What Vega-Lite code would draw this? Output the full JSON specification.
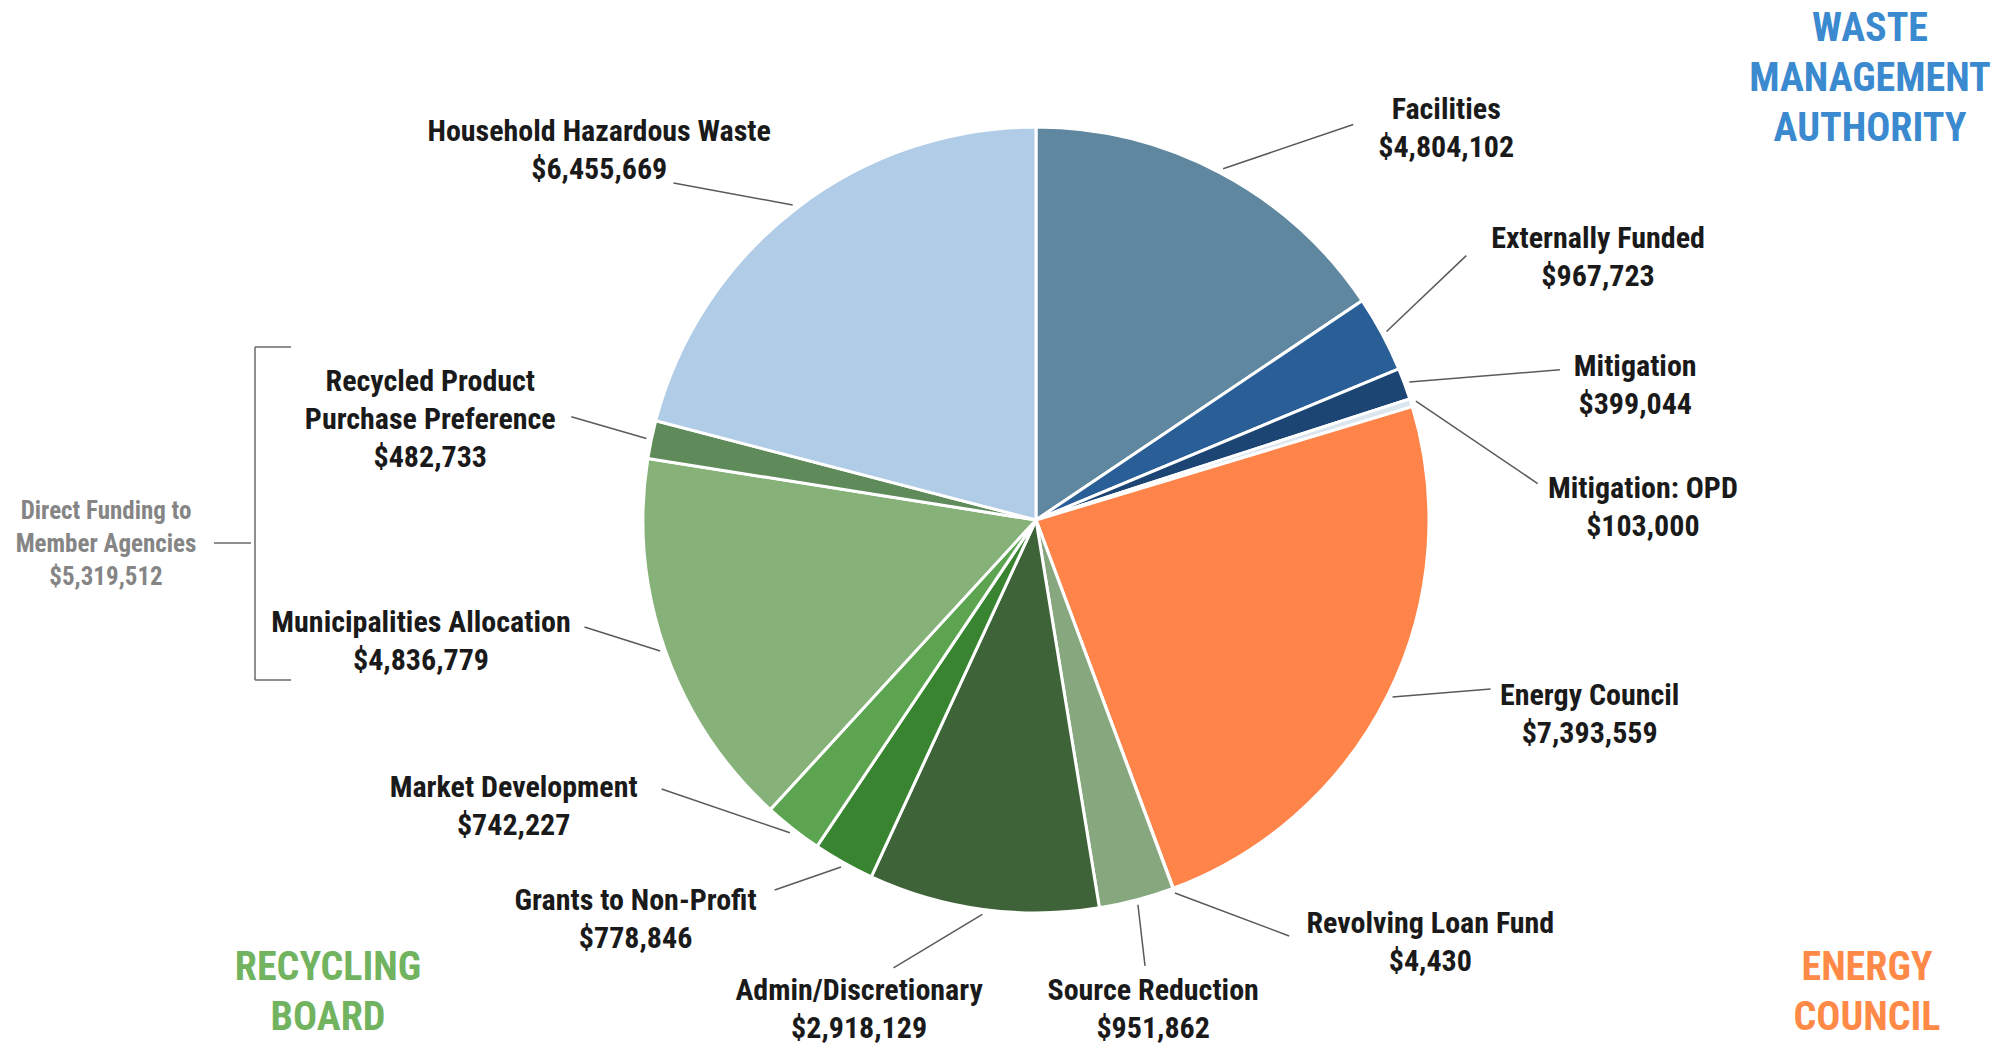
{
  "$schema": "https://vega.github.io/schema/vega-lite/v6.json",
  "width": 1924,
  "height": 1040,
  "padding": {"left": 74, "top": 0, "right": 0, "bottom": 6},
  "autosize": {"type": "none"},
  "background": "white",
  "config": {"view": {"stroke": null}, "font": "Roboto Condensed, Noto Sans ExtraCondensed, Noto Sans Condensed, Liberation Sans Narrow, DejaVu Sans Condensed, sans-serif"},
  "data": {"values": [
    {"name": "Facilities", "amount": 4804102, "group": "WASTE MANAGEMENT AUTHORITY", "order": 1},
    {"name": "Externally Funded", "amount": 967723, "group": "WASTE MANAGEMENT AUTHORITY", "order": 2},
    {"name": "Mitigation", "amount": 399044, "group": "WASTE MANAGEMENT AUTHORITY", "order": 3},
    {"name": "Mitigation: OPD", "amount": 103000, "group": "WASTE MANAGEMENT AUTHORITY", "order": 4},
    {"name": "Energy Council", "amount": 7393559, "group": "ENERGY COUNCIL", "order": 5},
    {"name": "Revolving Loan Fund", "amount": 4430, "group": "ENERGY COUNCIL", "order": 6},
    {"name": "Source Reduction", "amount": 951862, "group": "RECYCLING BOARD", "order": 7},
    {"name": "Admin/Discretionary", "amount": 2918129, "group": "RECYCLING BOARD", "order": 8},
    {"name": "Grants to Non-Profit", "amount": 778846, "group": "RECYCLING BOARD", "order": 9},
    {"name": "Market Development", "amount": 742227, "group": "RECYCLING BOARD", "order": 10},
    {"name": "Municipalities Allocation", "amount": 4836779, "group": "RECYCLING BOARD", "order": 11, "sub": "Direct Funding to Member Agencies"},
    {"name": "Recycled Product Purchase Preference", "amount": 482733, "group": "RECYCLING BOARD", "order": 12, "sub": "Direct Funding to Member Agencies"},
    {"name": "Household Hazardous Waste", "amount": 6455669, "group": "WASTE MANAGEMENT AUTHORITY", "order": 13}
  ]},
  "transform": [
    {"joinaggregate": [{"op": "sum", "field": "amount", "as": "total"}]},
    {"window": [{"op": "sum", "field": "amount", "as": "cum"}], "sort": [{"field": "order", "order": "ascending"}]},
    {"calculate": "(datum.cum - datum.amount / 2) / datum.total * 2 * PI", "as": "mid"},
    {"calculate": "{'Facilities': [18.3, 567, 10.7, 507], 'Externally Funded': [3.3, 620, -3.3, 505], 'Mitigation': [7.7, 614, 4.3, 545], 'Mitigation: OPD': [16.2, 607, 13.2, 503], 'Energy Council': [-7.0, 587, -6.0, 485], 'Revolving Loan Fund': [-22.6, 578, -10.9, 487], 'Source Reduction': [1.4, 504, 1.1, 459], 'Admin/Discretionary': [12.1, 521, 9.9, 470], 'Grants to Non-Profit': [15.7, 566, 5.9, 453], 'Market Development': [23.0, 596, 16.1, 461], 'Municipalities Allocation': [8.0, 627, 5.9, 464], 'Recycled Product Purchase Preference': [-2.4, 614, 0.7, 476], 'Household Hazardous Waste': [-12.1, 572, -9.4, 495]}[datum.name]", "as": "L"},
    {"calculate": "398 * sin(datum.mid)", "as": "sx"},
    {"calculate": "398 * cos(datum.mid)", "as": "sy"},
    {"calculate": "datum.L[3] * sin(datum.mid + datum.L[2] * PI / 180)", "as": "ex"},
    {"calculate": "datum.L[3] * cos(datum.mid + datum.L[2] * PI / 180)", "as": "ey"},
    {"calculate": "datum.L[1] * sin(datum.mid + datum.L[0] * PI / 180)", "as": "lx"},
    {"calculate": "datum.L[1] * cos(datum.mid + datum.L[0] * PI / 180) + (datum.name == 'Recycled Product Purchase Preference' ? 38 : 19)", "as": "ly"},
    {"calculate": "(datum.name == 'Recycled Product Purchase Preference' ? 'Recycled Product\\nPurchase Preference' : datum.name) + '\\n' + format(datum.amount, '$,.0f')", "as": "lbl"}
  ],
  "resolve": {"scale": {"color": "independent"}},
  "layer": [
    {
      "mark": {"type": "arc", "outerRadius": 393, "stroke": "white", "strokeWidth": 3},
      "encoding": {
        "theta": {"field": "amount", "type": "quantitative", "stack": true},
        "order": {"field": "order", "type": "quantitative"},
        "color": {
          "field": "name", "type": "nominal", "legend": null,
          "scale": {
            "domain": ["Facilities", "Externally Funded", "Mitigation", "Mitigation: OPD", "Energy Council", "Revolving Loan Fund", "Source Reduction", "Admin/Discretionary", "Grants to Non-Profit", "Market Development", "Municipalities Allocation", "Recycled Product Purchase Preference", "Household Hazardous Waste"],
            "range": ["#5F879F", "#2A5E96", "#1C4573", "#DCE6EF", "#FF844A", "#F2A070", "#87A87F", "#3F6339", "#388430", "#5DA451", "#86B279", "#5F8B5B", "#B0CCE7"]
          }
        }
      }
    },
    {
      "mark": {"type": "rule", "color": "#5a5a5a", "strokeWidth": 1.5},
      "encoding": {
        "x": {"field": "sx", "type": "quantitative", "scale": {"domain": [-962, 962], "nice": false, "zero": false}, "axis": null},
        "y": {"field": "sy", "type": "quantitative", "scale": {"domain": [-520, 520], "nice": false, "zero": false}, "axis": null},
        "x2": {"field": "ex"},
        "y2": {"field": "ey"}
      }
    },
    {
      "mark": {"type": "text", "align": "center", "baseline": "middle", "lineBreak": "\n", "fontSize": 30, "fontWeight": "bold", "lineHeight": 38, "color": "#1a1a1a"},
      "encoding": {
        "x": {"field": "lx", "type": "quantitative", "scale": {"domain": [-962, 962], "nice": false, "zero": false}, "axis": null},
        "y": {"field": "ly", "type": "quantitative", "scale": {"domain": [-520, 520], "nice": false, "zero": false}, "axis": null},
        "text": {"field": "lbl"}
      }
    },
    {
      "transform": [
        {"aggregate": [{"op": "sum", "field": "amount", "as": "gsum"}], "groupby": ["group"]},
        {"calculate": "{'WASTE MANAGEMENT AUTHORITY': [834, 491], 'ENERGY COUNCIL': [831, -448], 'RECYCLING BOARD': [-708, -448]}[datum.group]", "as": "G"},
        {"calculate": "datum.G[0]", "as": "gx"},
        {"calculate": "datum.G[1]", "as": "gy"},
        {"calculate": "replace(datum.group, regexp(' ', 'g'), '\\n')", "as": "gl"}
      ],
      "mark": {"type": "text", "align": "center", "baseline": "middle", "lineBreak": "\n", "fontSize": 40, "fontWeight": "bold", "lineHeight": 50},
      "encoding": {
        "x": {"field": "gx", "type": "quantitative", "scale": {"domain": [-962, 962], "nice": false, "zero": false}, "axis": null},
        "y": {"field": "gy", "type": "quantitative", "scale": {"domain": [-520, 520], "nice": false, "zero": false}, "axis": null},
        "text": {"field": "gl"},
        "color": {"field": "group", "type": "nominal", "legend": null, "scale": {"domain": ["WASTE MANAGEMENT AUTHORITY", "ENERGY COUNCIL", "RECYCLING BOARD"], "range": ["#3B89CE", "#FF8A47", "#72B35F"]}}
      }
    },
    {
      "transform": [
        {"filter": "isValid(datum.sub)"},
        {"aggregate": [{"op": "sum", "field": "amount", "as": "dsum"}], "groupby": ["sub"]},
        {"calculate": "replace(datum.sub, ' Member', '\\nMember') + '\\n' + format(datum.dsum, '$,.0f')", "as": "dl"},
        {"calculate": "-930", "as": "dx0"},
        {"calculate": "9", "as": "dy0"}
      ],
      "mark": {"type": "text", "align": "center", "baseline": "middle", "lineBreak": "\n", "fontSize": 25, "fontWeight": "bold", "lineHeight": 33, "color": "#858585"},
      "encoding": {
        "x": {"field": "dx0", "type": "quantitative", "scale": {"domain": [-962, 962], "nice": false, "zero": false}, "axis": null},
        "y": {"field": "dy0", "type": "quantitative", "scale": {"domain": [-520, 520], "nice": false, "zero": false}, "axis": null},
        "text": {"field": "dl"}
      }
    },
    {
      "transform": [
        {"filter": "isValid(datum.sub)"},
        {"calculate": "datum.name == 'Municipalities Allocation' ? -160 : 173", "as": "by"},
        {"calculate": "-781", "as": "bx"},
        {"calculate": "-23", "as": "bm"}
      ],
      "mark": {"type": "rule", "color": "#6a6a6a", "strokeWidth": 1.5},
      "encoding": {
        "x": {"field": "bx", "type": "quantitative", "scale": {"domain": [-962, 962], "nice": false, "zero": false}, "axis": null},
        "y": {"field": "bm", "type": "quantitative", "scale": {"domain": [-520, 520], "nice": false, "zero": false}, "axis": null},
        "x2": {"field": "bx"},
        "y2": {"field": "by"}
      }
    },
    {
      "transform": [
        {"filter": "isValid(datum.sub)"},
        {"calculate": "datum.name == 'Municipalities Allocation' ? -160 : 173", "as": "by"},
        {"calculate": "-781", "as": "bx"},
        {"calculate": "-745", "as": "bx2"}
      ],
      "mark": {"type": "rule", "color": "#6a6a6a", "strokeWidth": 1.5},
      "encoding": {
        "x": {"field": "bx", "type": "quantitative", "scale": {"domain": [-962, 962], "nice": false, "zero": false}, "axis": null},
        "y": {"field": "by", "type": "quantitative", "scale": {"domain": [-520, 520], "nice": false, "zero": false}, "axis": null},
        "x2": {"field": "bx2"},
        "y2": {"field": "by"}
      }
    },
    {
      "transform": [
        {"filter": "isValid(datum.sub)"},
        {"aggregate": [{"op": "sum", "field": "amount", "as": "dsum"}], "groupby": ["sub"]},
        {"calculate": "-822", "as": "mx"},
        {"calculate": "-785", "as": "mx2"},
        {"calculate": "-23", "as": "my"}
      ],
      "mark": {"type": "rule", "color": "#6a6a6a", "strokeWidth": 1.5},
      "encoding": {
        "x": {"field": "mx", "type": "quantitative", "scale": {"domain": [-962, 962], "nice": false, "zero": false}, "axis": null},
        "y": {"field": "my", "type": "quantitative", "scale": {"domain": [-520, 520], "nice": false, "zero": false}, "axis": null},
        "x2": {"field": "mx2"},
        "y2": {"field": "my"}
      }
    }
  ]
}
